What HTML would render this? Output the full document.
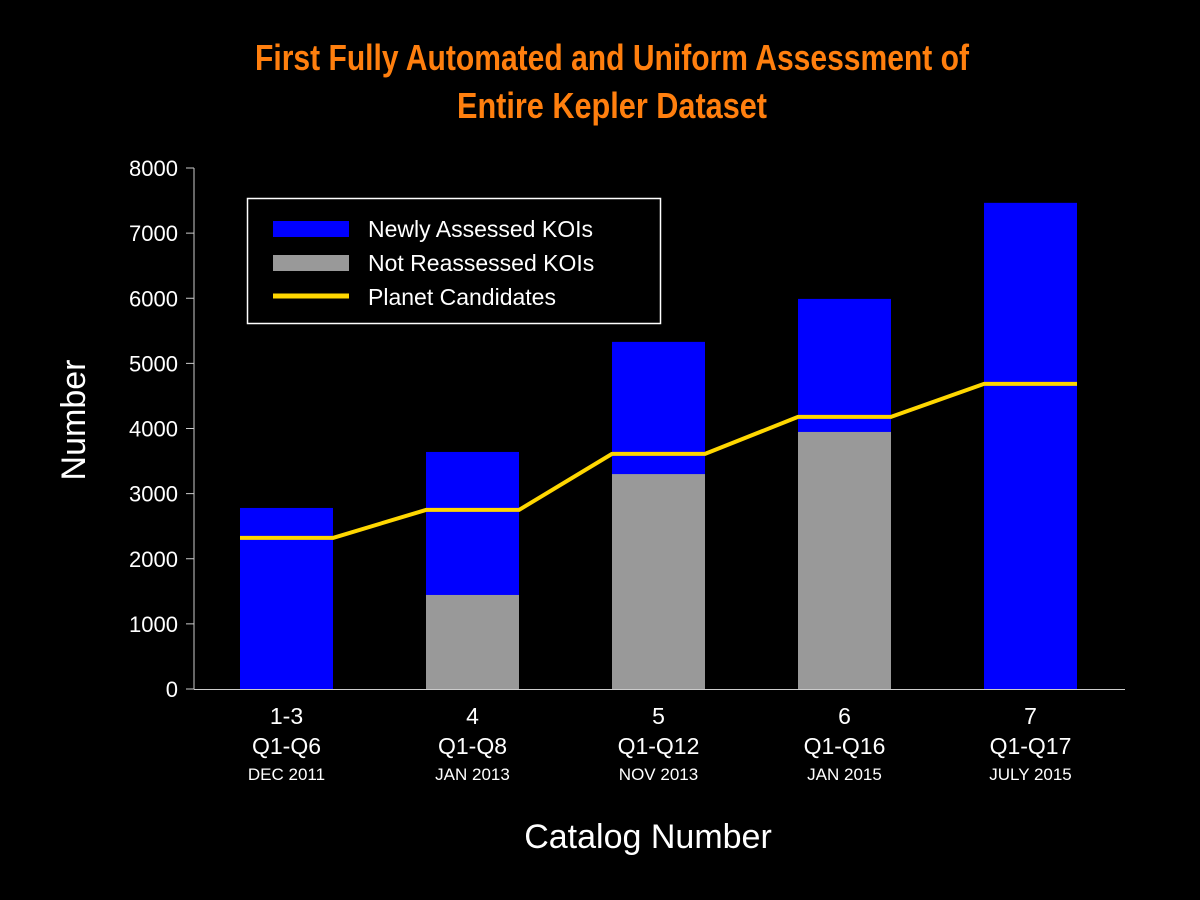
<!DOCTYPE html>
<html><head><meta charset="utf-8"><style>
html,body{margin:0;padding:0;background:#000;width:1200px;height:900px;overflow:hidden}
svg text{font-family:"Liberation Sans",sans-serif}
</style></head><body>
<svg width="1200" height="900" viewBox="0 0 1200 900">
<g>
<text x="612" y="70" text-anchor="middle" fill="#ff7f0e" font-size="36" font-weight="bold" style="font-family:'Liberation Sans Narrow','Liberation Sans',sans-serif" textLength="714" lengthAdjust="spacingAndGlyphs">First Fully Automated and Uniform Assessment of</text>
<text x="612" y="118" text-anchor="middle" fill="#ff7f0e" font-size="36" font-weight="bold" style="font-family:'Liberation Sans Narrow','Liberation Sans',sans-serif" textLength="310" lengthAdjust="spacingAndGlyphs">Entire Kepler Dataset</text>
</g>
<g id="plot"></g>
<text x="85" y="420" transform="rotate(-90 85 420)" text-anchor="middle" fill="#fff" font-size="34">Number</text>
<text x="648" y="848" text-anchor="middle" fill="#fff" font-size="34">Catalog Number</text>
<g>
<rect x="247.5" y="198.5" width="413" height="125" fill="#000" stroke="#fff" stroke-width="1.5"/>
<g><rect x="273" y="221" width="76" height="16" fill="#0000ff"/><text x="368" y="237" fill="#fff" font-size="23">Newly Assessed KOIs</text></g>
<g><rect x="273" y="255" width="76" height="16" fill="#999999"/><text x="368" y="271" fill="#fff" font-size="23">Not Reassessed KOIs</text></g>
<g><line x1="273" y1="296" x2="349" y2="296" stroke="#ffd700" stroke-width="5"/><text x="368" y="305" fill="#fff" font-size="23">Planet Candidates</text></g>
</g>
</svg>
<script>
const categories=["1-3","4","5","6","7"];
const quarters=["Q1-Q6","Q1-Q8","Q1-Q12","Q1-Q16","Q1-Q17"];
const dates=["DEC 2011","JAN 2013","NOV 2013","JAN 2015","JULY 2015"];
const totalKOIs=[2780,3640,5330,5990,7465];
const notReassessed=[0,1444,3300,3947,0];
const planetCandidates=[2320,2750,3610,4178,4685];
const yTicks=[0,1000,2000,3000,4000,5000,6000,7000,8000];
const NS="http://www.w3.org/2000/svg";
const g=document.getElementById('plot');
const y=v=>689-v*(521/8000);
const xc=i=>286.5+i*186;
const bw=93;
function mk(t,a,p){const e=document.createElementNS(NS,t);for(const k in a)e.setAttribute(k,a[k]);(p||g).appendChild(e);return e;}
yTicks.forEach(v=>{
 const l=mk('line',{x1:186,x2:194,y1:y(v),y2:y(v),stroke:'#ccc','stroke-width':1});
 
 
 const t=mk('text',{x:178,y:y(v)+8,'text-anchor':'end',fill:'#fff','font-size':22});
 t.textContent=v;
 
 
});
categories.forEach((c,i)=>{
 const b=mk('rect',{x:xc(i)-bw/2,y:y(totalKOIs[i]),width:bw,height:y(0)-y(totalKOIs[i]),fill:'#0000ff'});
 
 
 if(notReassessed[i]>0){
  const r=mk('rect',{x:xc(i)-bw/2,y:y(notReassessed[i]),width:bw,height:y(0)-y(notReassessed[i]),fill:'#999999'});
  
  
 }
 const t1=mk('text',{x:xc(i),y:724,'text-anchor':'middle',fill:'#fff','font-size':23});t1.textContent=c;
 
 
 const t2=mk('text',{x:xc(i),y:754,'text-anchor':'middle',fill:'#fff','font-size':23});t2.textContent=quarters[i];
 
 
 const t3=mk('text',{x:xc(i),y:780,'text-anchor':'middle',fill:'#fff','font-size':17});t3.textContent=dates[i];
 
 
});
let pts=[];
planetCandidates.forEach((v,i)=>{pts.push((xc(i)-bw/2)+','+y(v));pts.push((xc(i)+bw/2)+','+y(v));});
const pl=mk('polyline',{points:pts.join(' '),fill:'none',stroke:'#ffd700','stroke-width':4,'stroke-linejoin':'round'});


const ya=mk('line',{x1:194,x2:194,y1:168,y2:689,stroke:'#ccc','stroke-width':1});


const xa=mk('line',{x1:194,x2:1125,y1:689.5,y2:689.5,stroke:'#ccc','stroke-width':1});


</script>
</body></html>
